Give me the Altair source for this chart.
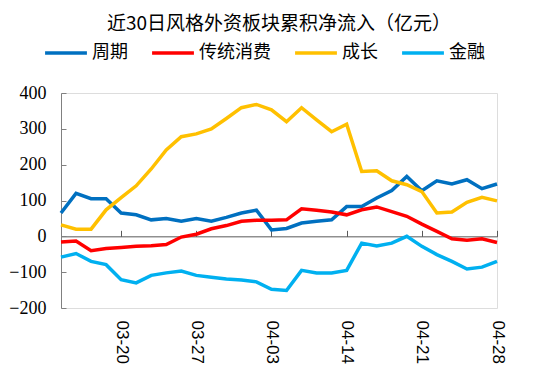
import altair as alt
import pandas as pd

dates = ["03-14", "03-15", "03-18", "03-19", "03-20", "03-21", "03-22", "03-25", "03-26", "03-27",
         "03-28", "03-29", "04-01", "04-02", "04-03", "04-08", "04-09", "04-10", "04-11", "04-14",
         "04-15", "04-16", "04-17", "04-18", "04-21", "04-22", "04-23", "04-24", "04-25", "04-28"]
tick_dates = ["03-20", "03-27", "04-03", "04-14", "04-21", "04-28"]

series_names = ["周期", "传统消费", "成长", "金融"]
colors = ["#0070C0", "#FF0000", "#FFC000", "#00B0F0"]

cycle = [65, 120, 105, 105, 65, 60, 46, 50, 42, 50, 42, 53, 65, 73, 18, 22, 37, 42, 46, 83,
         83, 107, 128, 167, 127, 155, 146, 158, 133, 146]
consumer = [-16, -13, -40, -34, -31, -28, -26, -23, -2, 6, 21, 30, 42, 45, 45, 46, 77, 73, 68, 60,
            74, 82, 69, 56, 34, 14, -7, -11, -7, -17]
growth = [32, 20, 20, 74, 108, 141, 188, 241, 278, 286, 300, 329, 359, 368, 353, 320, 359, 325, 292, 313,
          181, 183, 155, 144, 125, 65, 68, 95, 109, 99]
finance = [-58, -48, -70, -79, -121, -130, -109, -102, -97, -109, -114, -119, -122, -127, -148, -151, -95, -102, -102, -95,
           -19, -27, -19, 0, -28, -51, -70, -91, -86, -70]

y_ticks = [-200, -100, 0, 100, 200, 300, 400]

rows = []
for name, vals in zip(series_names, [cycle, consumer, growth, finance]):
    for d, v in zip(dates, vals):
        rows.append({"date": d, "series": name, "value": v})
df = pd.DataFrame(rows)

W, H = 436, 215
ymin, ymax = -200, 400

xscale = alt.Scale(type="point", padding=0)
yscale = alt.Scale(domain=[ymin, ymax], nice=False, zero=False)

color = alt.Color("series:N", sort=series_names,
                  scale=alt.Scale(domain=series_names, range=colors),
                  legend=alt.Legend(title=None, orient="none", direction="horizontal",
                                    legendX=-18, legendY=-63,
                                    symbolType="stroke", symbolSize=1750, symbolStrokeWidth=3.5,
                                    labelFont="Noto Sans CJK SC", labelFontSize=18, labelColor="#000000",
                                    labelOffset=3, columnPadding=17))

lines = alt.Chart(df).mark_line(strokeWidth=3.5).encode(
    x=alt.X("date:O", sort=dates, scale=xscale,
            axis=alt.Axis(title=None, orient="bottom", values=tick_dates, labelAngle=90,
                          domain=False, ticks=False, labelPadding=12,
                          labelFont="Liberation Sans", labelFontSize=17, labelColor="#000000")),
    y=alt.Y("value:Q", scale=yscale,
            axis=alt.Axis(title=None, orient="left", values=y_ticks, grid=False, ticks=False,
                          domain=True, domainColor="#808080", labelPadding=15,
                          labelFont="Liberation Serif", labelFontSize=18,
                          labelColor="#000000")),
    color=color,
)

guides = alt.Chart(df).mark_line(opacity=0).encode(
    x=alt.X("date:O", sort=dates, scale=xscale,
            axis=alt.Axis(title=None, orient="top", values=tick_dates, labels=False,
                          domain=True, domainColor="#595959", ticks=True, tickColor="#595959",
                          tickSize=6, offset=-H * ymax / (ymax - ymin))),
    y=alt.Y("value:Q", scale=yscale,
            axis=alt.Axis(title=None, orient="right", values=y_ticks, labels=False, grid=False,
                          domain=False, ticks=True, tickColor="#808080", tickSize=5, offset=-W)),
    detail="series:N",
)

chart = alt.layer(guides, lines).resolve_axis(x="independent", y="independent").properties(
    width=W, height=H, padding={"left": 0, "top": 7, "right": 5, "bottom": 5},
    title=alt.TitleParams("近30日风格外资板块累积净流入（亿元）", font="Noto Sans CJK SC",
                          fontSize=19, fontWeight="normal", color="#000000", offset=-4, anchor="middle"),
).configure_view(stroke=None).configure(background="white")

chart.save("out.html", embed_options={"renderer": "svg", "actions": False})
